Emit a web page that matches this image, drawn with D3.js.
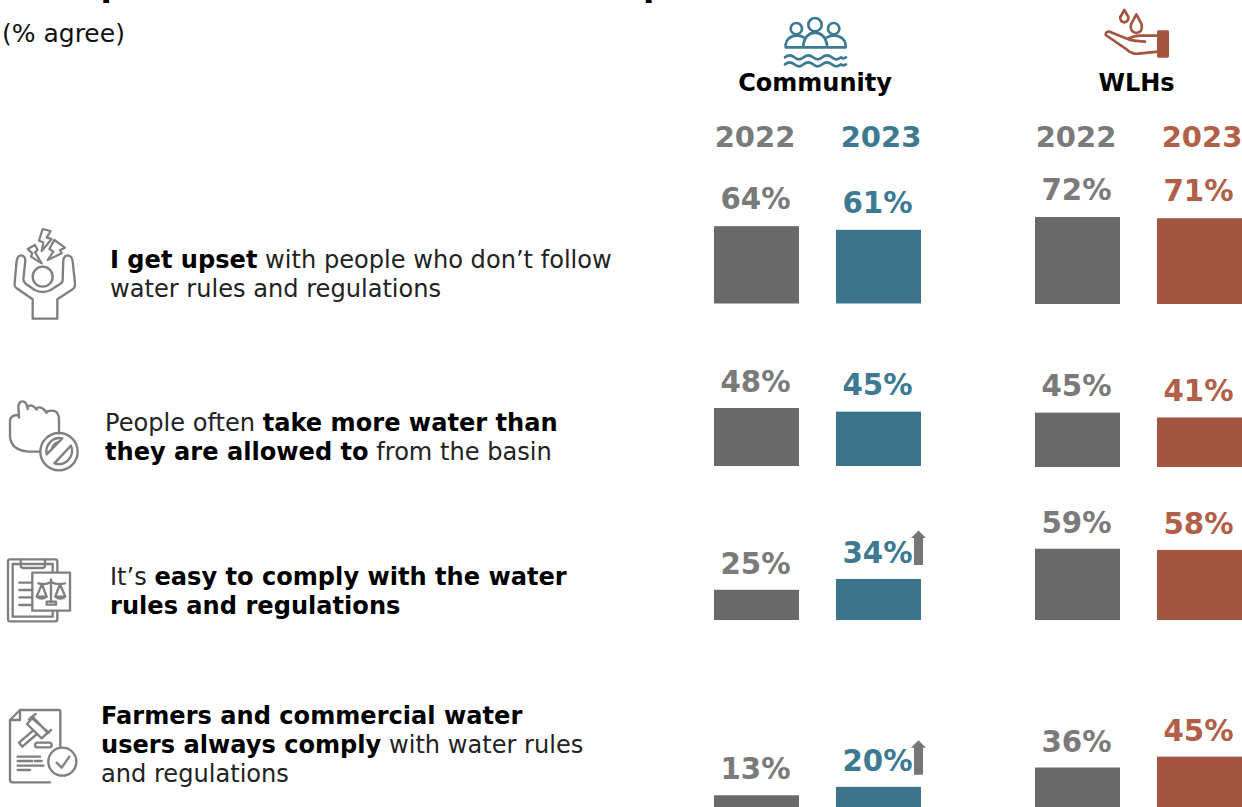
<!DOCTYPE html>
<html><head><meta charset="utf-8">
<script src="https://cdn.jsdelivr.net/npm/d3@7/dist/d3.min.js"></script>
<style>
html,body{margin:0;padding:0;background:#fff;overflow:hidden}
svg{display:block}
text{font-family:"DejaVu Sans",sans-serif}
</style></head><body>
<script>
const seriesKeys = ["comm2022","comm2023","wlh2022","wlh2023"];
const community2022 = [64,48,25,13];
const community2023 = [61,45,34,20];
const wlh2022 = [72,45,59,36];
const wlh2023 = [71,41,58,45];
const risingCommunity2023 = [false,false,true,true];
const years = ["2022","2023","2022","2023"];
const groups = ["Community","WLHs"];
const statements = [
 [[["I get upset",1],[" with people who don’t follow",0]],[["water rules and regulations",0]]],
 [[["People often ",0],["take more water than",1]],[["they are allowed to",1],[" from the basin",0]]],
 [[["It’s ",0],["easy to comply with the water",1]],[["rules and regulations",1]]],
 [[["Farmers and commercial water",1]],[["users always comply",1],[" with water rules",0]],[["and regulations",0]]]
];
const W=1242,H=807;
const GREY="#696969",GREYT="#7a7a7a",TEAL="#3c758b",TEALT="#3d7a92",RUST="#a3553f",RUSTT="#b25f48",ICON="#7f7f7f";
const svg=d3.select("body").append("svg").attr("width",W).attr("height",H);

// layout
const x=d3.scaleOrdinal().domain(seriesKeys).range([714,836,1035,1157]);
const barW=85;
const h=d3.scaleLinear().domain([0,100]).range([0,120.8]);
const commBase=[303.5,466,620,811], wlhBase=[304,467,620,811];
const bases=[commBase,commBase,wlhBase,wlhBase];
const labelGap=[17,16.5,16,16];
const yearX=[755,881,1076,1202];
const fills=[GREY,TEAL,GREY,RUST], textFills=[GREYT,TEALT,GREYT,RUSTT];
const values=[community2022,community2023,wlh2022,wlh2023];

// clipped title descenders and subtitle
svg.selectAll("text.ttl").data([100.5,643]).join("text").attr("class","ttl")
 .attr("x",d=>d).attr("y",-4).attr("font-size",33).attr("font-weight",700).attr("fill","#000").text("p");
svg.append("text").attr("x",2).attr("y",42).attr("font-size",25).attr("fill","#111").text("(% agree)");

// group headers
svg.selectAll("text.grp").data(groups).join("text").attr("class","grp")
 .attr("x",(d,i)=>[815,1136.5][i]).attr("y",91).attr("text-anchor","middle")
 .attr("font-size",24).attr("font-weight",700).attr("fill","#000").text(d=>d);
svg.selectAll("text.yr").data(years).join("text").attr("class","yr")
 .attr("x",(d,i)=>yearX[i]).attr("y",147).attr("text-anchor","middle")
 .attr("font-size",29).attr("font-weight",700).attr("fill",(d,i)=>textFills[i]).text(d=>d);

// bars
seriesKeys.forEach((k,s)=>{
 const g=svg.append("g").attr("class","s-"+k);
 g.selectAll("rect").data(values[s]).join("rect")
  .attr("x",x(k)).attr("width",barW)
  .attr("y",(d,i)=>bases[s][i]-h(d)).attr("height",d=>h(d)).attr("fill",fills[s]);
 g.selectAll("text").data(values[s]).join("text")
  .attr("x",x(k)+barW/2-1).attr("y",(d,i)=>bases[s][i]-h(d)-labelGap[i]).attr("text-anchor","middle")
  .attr("font-size",29.3).attr("font-weight",700).attr("fill",textFills[s]).text(d=>d+"%");
});
// significance arrows
const arrowGap=[0,0,14,12];
svg.selectAll("path.up").data(community2023.map((d,i)=>({d,i})).filter(o=>risingCommunity2023[o.i])).join("path")
 .attr("class","up").attr("fill","#767676")
 .attr("transform",o=>`translate(918.5,${commBase[o.i]-h(o.d)-arrowGap[o.i]})`)
 .attr("d","M-4.5,0V-27H-7.5L0,-34.5L7.5,-27H4.5V0Z");

// statements
const textX=[110,105,110,101], textY=[268,431,585,724];
statements.forEach((lines,r)=>{
 lines.forEach((runs,l)=>{
  const t=svg.append("text").attr("x",textX[r]).attr("y",textY[r]+l*29).attr("font-size",24.1).attr("fill","#111").style("white-space","pre");
  runs.forEach(([s,b])=>t.append("tspan").attr("font-weight",b?700:400).attr("fill",b?"#000":"#222").text(s));
 });
});

// icons, drawn in 3x crop units
function icon(tx,ty,col,sw){return svg.append("g").attr("transform",`translate(${tx},${ty}) scale(${1/3})`).attr("fill","none").attr("stroke",col).attr("stroke-width",sw).attr("stroke-linejoin","round").attr("stroke-linecap","round");}
const i1=icon(0,220,ICON,7);
i1.append("circle").attr("cx",128).attr("cy",170).attr("r",30);
i1.append("path").attr("d","M98,238L50,205Q42,200 44,188L50,122Q54,105 64,106Q76,108 76,122L70,178Q70,186 78,192L104,210Q128,222 152,210L180,192Q190,186 188,176L190,120Q192,106 204,106Q216,108 218,124L225,190Q226,202 218,208L172,238V296H98Z");
const i1b=icon(5,225,ICON,6.5);
i1b.append("path").attr("d","M113,12L137,18L125,38L140,42L110,78L115,52L102,47Z");
i1b.append("path").attr("d","M68,72L90,60L98,75L90,82L110,115L78,95L82,85Z");
i1b.append("path").attr("d","M148,45L180,68L165,75L170,85L128,105L145,80L133,72Z");
const i2=icon(5,395,ICON,7);
i2.append("path").attr("d","M42,68L40,32Q45,16 56,20Q66,24 68,42M68,36Q80,24 95,44M95,40Q110,30 125,54M125,50Q160,38 162,72V115M40,60Q15,60 15,78V125Q18,165 70,170H105");
i2.append("circle").attr("cx",162).attr("cy",170).attr("r",56);
i2.append("path").attr("d","M125,178A40,40 0 0 1 172,130ZM148,205A40,40 0 0 0 198,152Z");
i2.append("path").attr("d","M140,165Q142,145 160,140").attr("stroke-width",5);
const i3=icon(0,550,ICON,7);
i3.append("rect").attr("x",24).attr("y",28).attr("width",148).attr("height",186).attr("rx",6);
i3.append("rect").attr("x",38).attr("y",42).attr("width",120).attr("height",158);
i3.append("path").attr("d","M62,28V46Q62,54 70,54H128Q135,54 135,46V28");
i3.append("path").attr("d","M58,98H97M58,120H97M58,142H97M58,165H97");
i3.append("rect").attr("x",97).attr("y",68).attr("width",113).attr("height",114).attr("fill","#fff");
i3.append("path").attr("d","M153,88V155M115,100Q135,106 153,96Q172,106 195,100M126,102L110,140M126,102L140,140M180,102L166,140M180,102L196,140M110,140Q125,152 140,140M110,140H140M166,140H196M166,140Q181,152 196,140");
i3.append("rect").attr("x",140).attr("y",155).attr("width",28).attr("height",9);
const i4=icon(5,700,ICON,7);
i4.append("path").attr("d","M166,140V36Q166,30 160,30H45L15,60V240Q15,247 22,247H135M45,30V60H15");
i4.append("path").attr("d","M72,58L92,42M122,104L138,90M78,52L132,98M66,72L110,115L128,98L84,52ZM84,92L42,128L52,140L96,102");
i4.append("rect").attr("x",90).attr("y",128).attr("width",50).attr("height",14).attr("rx",7);
i4.append("path").attr("d","M38,170H105M38,183H82M90,183H110M38,197H115M38,210H75");
i4.append("circle").attr("cx",172).attr("cy",185).attr("r",42).attr("fill","#fff");
i4.append("path").attr("d","M155,188L170,203L193,170");
const cI=icon(775,10,TEALT,8);
[[64,56,17],[120,44,20],[176,56,17]].forEach(c=>cI.append("circle").attr("cx",c[0]).attr("cy",c[1]).attr("r",c[2]));
cI.append("path").attr("d","M32,112V104Q34,80 64,76Q76,76 86,82M85,112V104Q90,70 120,68Q150,70 156,104V112M156,82Q166,76 178,76Q210,80 212,104V112M32,112H212");
cI.append("path").attr("d","M30,142Q44,130 58,142T86,142T114,142T142,142T170,142T198,142Q206,148 213,142M30,163Q44,151 58,163T86,163T114,163T142,163T170,163T198,163Q206,169 213,163");
const hI=icon(1095,5,RUST,8);
hI.append("path").attr("d","M88,15L76,36Q74,50 88,52Q102,50 100,36Z");
hI.append("path").attr("d","M124,28L108,58Q104,82 124,84Q144,82 140,58Z");
hI.append("path").attr("d","M190,92H140Q120,90 98,102L44,80Q32,78 32,90L96,134Q112,148 130,146L190,140M98,102Q110,108 150,110");
hI.append("rect").attr("x",190).attr("y",80).attr("width",28).attr("height",74).attr("fill",RUST);
</script>
</body></html>
